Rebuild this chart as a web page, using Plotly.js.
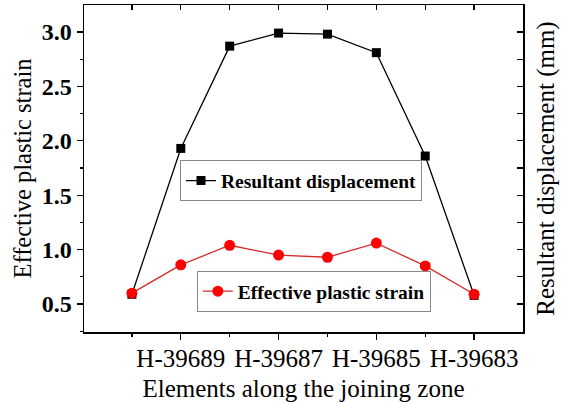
<!DOCTYPE html>
<html>
<head>
<meta charset="utf-8">
<script src="https://cdn.plot.ly/plotly-3.0.1.min.js"></script>
<style>
  html, body { margin: 0; padding: 0; background: #fff; }
  #chart { width: 561px; height: 402px; }
</style>
</head>
<body>
<div id="chart"></div>
<script>
// Elements H-39690 ... H-39683 along the joining zone, plotted at positions 1..8
const positions = [1, 2, 3, 4, 5, 6, 7, 8];
const elementLabels = ['H-39689', 'H-39687', 'H-39685', 'H-39683'];
const labelPositions = [2, 4, 6, 8];

const resultantDisplacement = [0.59, 1.93, 2.87, 2.99, 2.98, 2.81, 1.86, 0.58];
const effectivePlasticStrain = [0.60, 0.86, 1.04, 0.95, 0.93, 1.06, 0.85, 0.59];

const serif = 'Liberation Serif';
const xRange = [0.02, 9.0];
const yRange = [0.243, 3.248];

// The strain curve sits on the overlay axes so its markers are drawn on top.
const traces = [
  {
    x: positions,
    y: resultantDisplacement,
    xaxis: 'x',
    yaxis: 'y',
    name: 'Resultant displacement',
    mode: 'lines+markers',
    line: { color: '#000000', width: 1.3 },
    marker: { symbol: 'square', size: 9, color: '#000000' },
    legend: 'legend'
  },
  {
    x: positions,
    y: effectivePlasticStrain,
    xaxis: 'x2',
    yaxis: 'y2',
    name: 'Effective plastic strain',
    mode: 'lines+markers',
    line: { color: '#d42a2a', width: 1.3 },
    marker: { symbol: 'circle', size: 11, color: '#ff0000' },
    legend: 'legend2'
  }
];

const layout = {
  width: 561,
  height: 402,
  margin: { l: 84, r: 38, t: 5, b: 70 },
  paper_bgcolor: '#ffffff',
  plot_bgcolor: '#ffffff',
  font: { family: serif, color: '#000000' },
  showlegend: true,
  xaxis: {
    range: xRange,
    tickmode: 'array',
    tickvals: labelPositions,
    ticktext: elementLabels,
    ticks: 'outside',
    ticklen: 6,
    tickwidth: 1.3,
    tickcolor: '#000',
    ticklabelstandoff: -3,
    tickfont: { family: serif, size: 25, color: '#000' },
    minor: { tickvals: [1, 3, 5, 7], ticks: 'outside', ticklen: 3, tickwidth: 1.3, tickcolor: '#000' },
    showline: true,
    linecolor: '#000',
    linewidth: 1.5,
    showgrid: false,
    zeroline: false,
    title: { text: 'Elements along the joining zone', font: { family: serif, size: 25, color: '#000' }, standoff: 9 }
  },
  xaxis2: {
    range: xRange,
    overlaying: 'x',
    side: 'top',
    tickmode: 'linear',
    tick0: 1,
    dtick: 1,
    ticks: 'inside',
    ticklen: 5,
    tickwidth: 1.3,
    tickcolor: '#000',
    showticklabels: false,
    showline: true,
    linecolor: '#000',
    linewidth: 1.5,
    showgrid: false,
    zeroline: false
  },
  yaxis: {
    range: yRange,
    tickmode: 'linear',
    tick0: 0.5,
    dtick: 0.5,
    tickformat: '.1f',
    ticks: 'outside',
    ticklen: 6,
    tickwidth: 1.3,
    tickcolor: '#000',
    tickfont: { family: serif, size: 24, color: '#000', weight: 'bold' },
    minor: { tick0: 0.25, dtick: 0.5, ticks: 'outside', ticklen: 3, tickwidth: 1.3, tickcolor: '#000' },
    showline: true,
    linecolor: '#000',
    linewidth: 1.5,
    showgrid: false,
    zeroline: false,
    title: { text: 'Effective plastic strain', font: { family: serif, size: 24.5, color: '#000' }, standoff: 3 }
  },
  yaxis2: {
    range: yRange,
    overlaying: 'y',
    side: 'right',
    anchor: 'x2',
    tickmode: 'linear',
    tick0: 0.25,
    dtick: 0.25,
    ticks: 'inside',
    ticklen: 6,
    tickwidth: 1.3,
    tickcolor: '#000',
    showticklabels: false,
    showline: true,
    linecolor: '#000',
    linewidth: 1.5,
    showgrid: false,
    zeroline: false,
    title: { text: 'Resultant displacement (mm)', font: { family: serif, size: 25, color: '#000' }, standoff: 13 }
  },
  legend: {
    x: 0.2187, y: 0.462, xanchor: 'left', yanchor: 'middle',
    bgcolor: '#ffffff', bordercolor: '#888888', borderwidth: 1,
    font: { family: serif, size: 19.5, color: '#000', weight: 'bold' },
    itemwidth: 30,
    tracegroupgap: 0
  },
  legend2: {
    x: 0.257, y: 0.124, xanchor: 'left', yanchor: 'middle',
    bgcolor: '#ffffff', bordercolor: '#888888', borderwidth: 1,
    font: { family: serif, size: 19.5, color: '#000', weight: 'bold' },
    itemwidth: 30,
    tracegroupgap: 0
  }
};

Plotly.newPlot('chart', traces, layout, { displayModeBar: false, staticPlot: true });
</script>
</body>
</html>
